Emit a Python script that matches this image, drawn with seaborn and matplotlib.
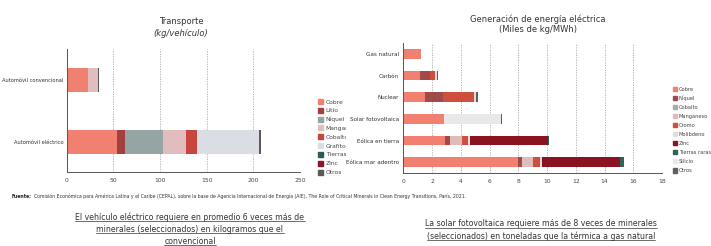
import numpy as np
import pandas as pd
import matplotlib
matplotlib.use("Agg")
import matplotlib.pyplot as plt
from matplotlib.patches import Rectangle
import seaborn as sns

# Transporte (kg/vehiculo)
veh_cats = ["Automóvil convencional", "Automóvil eléctrico"]
veh_minerals = ["Cobre", "Litio", "Níquel", "Manganeso", "Cobalto", "Grafito", "Tierras raras", "Zinc", "Otros"]
veh_values = {
    "Cobre": [22.5, 54.0],
    "Litio": [0.0, 8.5],
    "Níquel": [0.0, 40.5],
    "Manganeso": [11.5, 24.5],
    "Cobalto": [0.0, 12.5],
    "Grafito": [0.0, 66.0],
    "Tierras raras": [0.0, 0.5],
    "Zinc": [0.0, 0.1],
    "Otros": [0.3, 1.5],
}
veh_legend = ["Cobre", "Litio", "Níquel", "Mangane", "Cobalto", "Grafito", "Tierras ra", "Zinc", "Otros"]
veh_colors = ["#F28070", "#A3403F", "#95A5A3", "#E2BDBF", "#C9463F", "#DADDE3", "#2B5E50", "#8C1426", "#5A5A5A"]

# Generacion de energia electrica (miles de kg/MWh)
ele_cats = ["Gas natural", "Carbón", "Nuclear", "Solar fotovoltaica", "Eólica en tierra", "Eólica mar adentro"]
ele_minerals = ["Cobre", "Níquel", "Cobalto", "Manganeso", "Cromo", "Molibdeno", "Zinc", "Tierras raras", "Silicio", "Otros"]
ele_values = {
    "Cobre": [1.2, 1.15, 1.5, 2.85, 2.9, 8.0],
    "Níquel": [0.0, 0.72, 1.25, 0.0, 0.35, 0.24],
    "Cobalto": [0.0, 0.0, 0.0, 0.0, 0.0, 0.0],
    "Manganeso": [0.0, 0.0, 0.0, 0.0, 0.85, 0.75],
    "Cromo": [0.0, 0.35, 2.2, 0.0, 0.4, 0.5],
    "Molibdeno": [0.0, 0.1, 0.12, 0.0, 0.15, 0.17],
    "Zinc": [0.0, 0.0, 0.0, 0.0, 5.45, 5.45],
    "Tierras raras": [0.0, 0.0, 0.0, 0.0, 0.02, 0.24],
    "Silicio": [0.0, 0.0, 0.0, 3.95, 0.0, 0.0],
    "Otros": [0.0, 0.1, 0.12, 0.07, 0.0, 0.0],
}
ele_colors = ["#F28070", "#A14A4A", "#A5ABA8", "#E0BBBB", "#CF4F3F", "#DDDDDD", "#8B1221", "#2E6656", "#E8E8E8", "#5F5F5F"]

sns.set_style("white")
plt.rcParams["font.family"] = ["DejaVu Sans"]
fig = plt.figure(figsize=(7.11, 2.46), dpi=100)
fig.patch.set_facecolor("white")

ax1 = fig.add_axes([0.0938, 0.2988, 0.3281, 0.502])
ax2 = fig.add_axes([0.5672, 0.2967, 0.3639, 0.5285])
ax1.set_zorder(0)
ax2.set_zorder(2)


def stacked(ax, cats, minerals, values, colors, width):
    df = pd.DataFrame(values, index=cats)[minerals]
    cum = df.cumsum(axis=1)
    # draw cumulative totals from largest to smallest so each segment shows
    for m, c in reversed(list(zip(minerals, colors))):
        sns.barplot(x=cum[m].values, y=cats, color=c, orient="h", width=width,
                    saturation=1, ax=ax, edgecolor="none", linewidth=0)
    return [Rectangle((0, 0), 1, 1, color=c) for c in colors]


def style(ax, n, xmax, step, ysize, ypad):
    ax.set_xlim(0, xmax)
    ax.set_ylim(n - 0.5, -0.5)
    ax.set_xticks(np.arange(0, xmax + 0.01, step))
    ax.tick_params(axis="x", labelsize=4.3, length=2, width=0.6, color="#666", pad=2, labelcolor="#444")
    ax.tick_params(axis="y", which="major", labelsize=ysize, length=0, pad=ypad, labelcolor="#333")
    ax.set_yticks(np.arange(-0.5, n, 1), minor=True)
    ax.tick_params(axis="y", which="minor", length=2.5, width=0.6, color="#666")
    ax.grid(axis="x", linestyle=(0, (1.5, 1.5)), color="#AAAAAA", linewidth=0.6)
    ax.set_axisbelow(True)
    for s in ["top", "right"]:
        ax.spines[s].set_visible(False)
    for s in ["left", "bottom"]:
        ax.spines[s].set_color("#555555")
        ax.spines[s].set_linewidth(0.7)
    ax.set_xlabel("")
    ax.set_ylabel("")


h1 = stacked(ax1, veh_cats, veh_minerals, veh_values, veh_colors, 0.39)
style(ax1, len(veh_cats), 250, 50, 3.7, 2.5)
h2 = stacked(ax2, ele_cats, ele_minerals, ele_values, ele_colors, 0.45)
style(ax2, len(ele_cats), 18, 2, 4.1, 3)

leg_kw = dict(frameon=False, handlelength=0.9, handleheight=0.9,
              handletextpad=0.4, labelspacing=0.55, borderpad=0, loc="upper left")
l1 = ax1.legend(h1, veh_legend, bbox_to_anchor=(315 / 711, 1 - 96 / 246),
                bbox_transform=fig.transFigure, fontsize=4.3, **leg_kw)
for t in l1.get_texts():
    t.set_color("#444")
l2 = ax2.legend(h2, ele_minerals, bbox_to_anchor=(670 / 711, 1 - 84 / 246),
                bbox_transform=fig.transFigure, fontsize=3.7,
                **{**leg_kw, "labelspacing": 0.78, "handletextpad": 0.35})
for t in l2.get_texts():
    t.set_color("#444")

# white panel: right slide picture sits over the left legend
fig.add_artist(Rectangle((346 / 711, 0.25), 0.6, 0.6, transform=fig.transFigure,
                         facecolor="white", edgecolor="none", zorder=1))

# titles
fig.text(181 / 711, 1 - 22 / 246, "Transporte", ha="center", va="center", fontsize=6, color="#333")
fig.text(181 / 711, 1 - 33 / 246, "(kg/vehículo)", ha="center", va="center", fontsize=6,
         color="#333", style="italic")
fig.text(538 / 711, 1 - 19 / 246, "Generación de energía eléctrica", ha="center", va="center", fontsize=6, color="#333")
fig.text(538 / 711, 1 - 30 / 246, "(Miles de kg/MWh)", ha="center", va="center", fontsize=6, color="#333")

fig.canvas.draw()
r = fig.canvas.get_renderer()
inv = fig.transFigure.inverted()

src_bold = fig.text(12 / 711, 1 - 196 / 246, "Fuente:", ha="left", va="center", fontsize=3.3,
                    color="#222", weight="bold")
bb = src_bold.get_window_extent(r)
fig.text(inv.transform((bb.x1 + 1.5, 0))[0], 1 - 196 / 246,
         "Comisión Económica para América Latina y el Caribe (CEPAL), sobre la base de Agencia "
         "Internacional de Energía (AIE), The Role of Critical Minerals in Clean Energy Transitions, París, 2021.",
         ha="left", va="center", fontsize=3.3, color="#333")

notes_left = ["El vehículo eléctrico requiere en promedio 6 veces más de",
              "minerales (seleccionados) en kilogramos que el",
              "convencional"]
notes_right = ["La solar fotovoltaica requiere más de 8 veces de minerales",
               "(seleccionados) en toneladas que la térmica a gas natural"]
note_texts = []
for i, line in enumerate(notes_left):
    note_texts.append(fig.text(190 / 711, 1 - (217 + 12 * i) / 246, line, ha="center", va="center",
                               fontsize=5.6, color="#333"))
for i, line in enumerate(notes_right):
    note_texts.append(fig.text(541 / 711, 1 - (224 + 12 * i) / 246, line, ha="center", va="center",
                               fontsize=5.6, color="#333"))

fig.canvas.draw()
for t in note_texts:
    bb = t.get_window_extent(r)
    (x0, y0), (x1, y1) = inv.transform([(bb.x0, bb.y0), (bb.x1, bb.y1)])
    fig.add_artist(plt.Line2D([x0, x1], [y0 + 0.002, y0 + 0.002], transform=fig.transFigure,
                              color="#333", linewidth=0.5))

fig.savefig("out.png", dpi=100, facecolor="white")
